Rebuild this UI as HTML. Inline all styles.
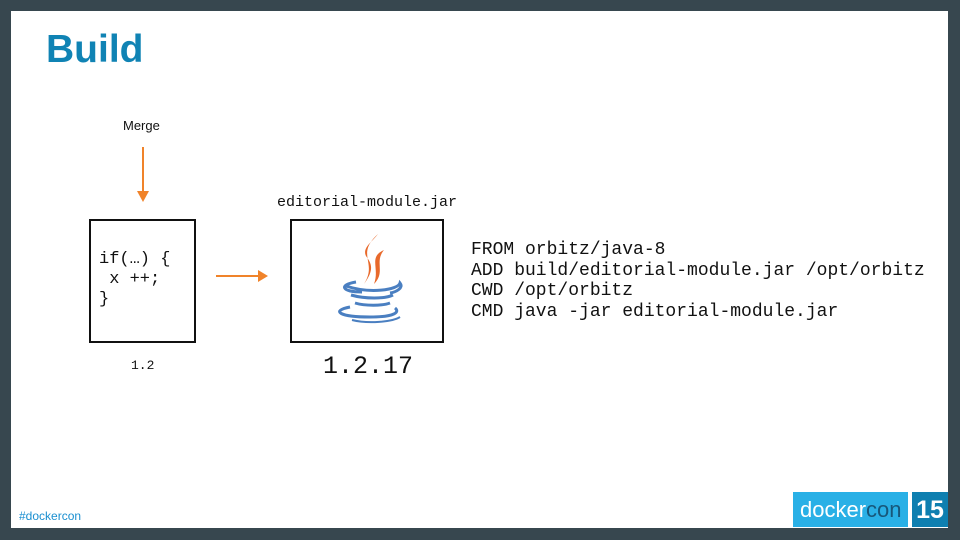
<!DOCTYPE html>
<html><head><meta charset="utf-8"><style>
html,body{margin:0;padding:0}
body{width:960px;height:540px;background:#37474f;position:relative;overflow:hidden;font-family:"Liberation Sans",sans-serif}
.slide{position:absolute;left:11px;top:11px;width:937px;height:517px;background:#fff}
.a{position:absolute;white-space:pre}
.mono{font-family:"Liberation Mono","DejaVu Sans Mono",monospace;color:#111}
.box{position:absolute;border:2px solid #111;box-sizing:border-box}
</style></head><body>
<div class="slide"></div>
<div class="a" style="left:46px;top:28px;font-size:39px;font-weight:bold;color:#1083b4">Build</div>
<div class="a" style="left:123px;top:118px;font-size:13px;color:#111">Merge</div>
<svg class="a" style="left:0;top:0" width="960" height="540">
<line x1="143" y1="147" x2="143" y2="196" stroke="#f0832a" stroke-width="2"/>
<path d="M137,191 L143,202 L149,191 Z" fill="#f0832a"/>
<line x1="216" y1="276" x2="262" y2="276" stroke="#f0832a" stroke-width="2"/>
<path d="M258,270 L268,276 L258,282 Z" fill="#f0832a"/>
<path d="M378,234 C355,255 378,262 364,284 C376,268 370,262 366,256 C362,248 372,242 378,234Z" fill="#e8692b"/>
<path d="M384,250 C368,257 380,268 374,284 C386,272 374,262 384,250Z" fill="#e8692b"/>
<path d="M356,282 C338,285 342,292 362,292 M346,286 C370,294 398,290 400,283 C404,288 396,292 390,293" fill="none" stroke="#4a7fc1" stroke-width="3"/>
<path d="M351,295 C365,299 385,299 393,295" fill="none" stroke="#4a7fc1" stroke-width="3"/>
<path d="M355,303 C365,306 382,306 390,303" fill="none" stroke="#4a7fc1" stroke-width="3"/>
<path d="M350,307 C330,311 340,317 370,317 C395,317 400,312 395,308" fill="none" stroke="#4a7fc1" stroke-width="3"/>
<path d="M352,320 C368,324 392,322 400,317" fill="none" stroke="#4a7fc1" stroke-width="2"/>
</svg>
<div class="box" style="left:89px;top:219px;width:107px;height:124px"></div>
<div class="a mono" style="left:99px;top:250px;font-size:17px;line-height:20px">if(…) {
 x ++;
}</div>
<div class="a mono" style="left:131px;top:358px;font-size:13px">1.2</div>
<div class="box" style="left:290px;top:219px;width:154px;height:124px"></div>
<div class="a mono" style="left:277px;top:194px;font-size:15px">editorial-module.jar</div>
<div class="a mono" style="left:323px;top:352px;font-size:25px">1.2.17</div>
<div class="a mono" style="left:471px;top:240px;font-size:18px;line-height:20.5px">FROM orbitz/java-8
ADD build/editorial-module.jar /opt/orbitz
CWD /opt/orbitz
CMD java -jar editorial-module.jar</div>
<div class="a" style="left:19px;top:509px;font-size:12px;color:#1a8fd0">#dockercon</div>
<div class="a" style="left:793px;top:492px;width:115px;height:35px;background:#29b0e6"></div>
<div class="a" style="left:800px;top:497px;font-size:22px;color:#fff">docker<span style="color:#17577a">con</span></div>
<div class="a" style="left:912px;top:492px;width:36px;height:35px;background:#0e7fb0;color:#fff;font-size:25px;font-weight:bold;text-align:center;line-height:36px">15</div>
</body></html>
